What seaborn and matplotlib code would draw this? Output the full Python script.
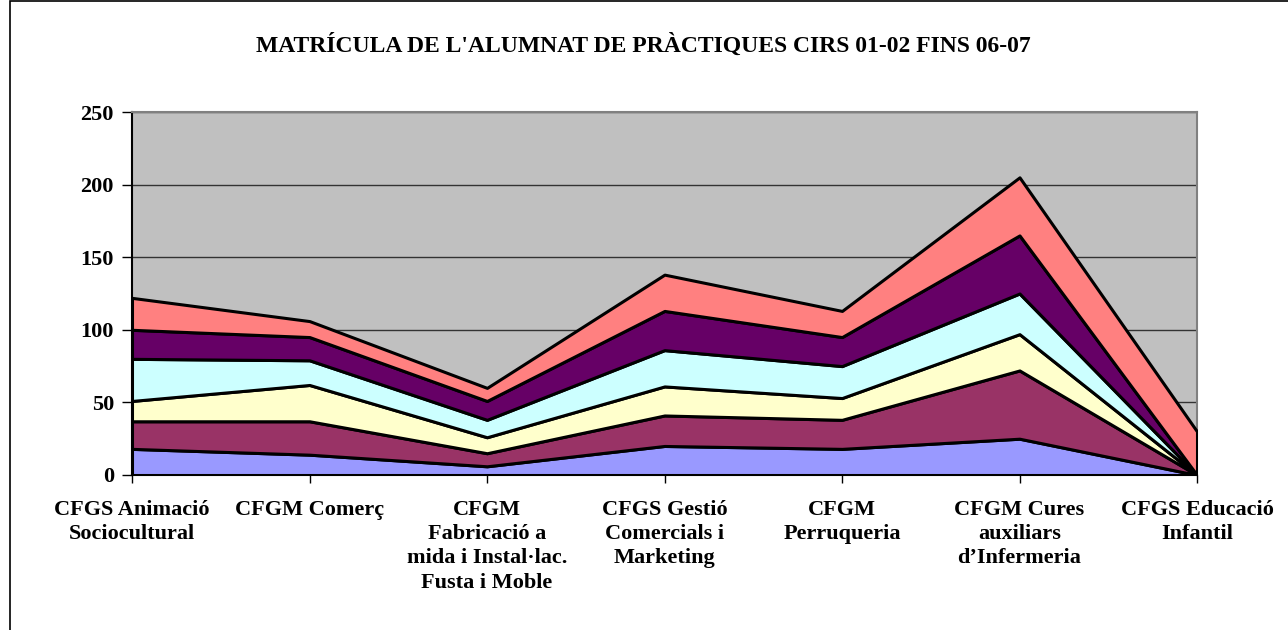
import matplotlib
matplotlib.use("Agg")
import matplotlib.pyplot as plt
from matplotlib.patches import Rectangle
import seaborn as sns

# %% Data ----
categories = [
    "CFGS Animació\nSociocultural",
    "CFGM Comerç",
    "CFGM\nFabricació a\nmida i Instal·lac.\nFusta i Moble",
    "CFGS Gestió\nComercials i\nMarketing",
    "CFGM\nPerruqueria",
    "CFGM Cures\nauxiliars\nd\u2019Infermeria",
    "CFGS Educació\nInfantil",
]
courses = ["01-02", "02-03", "03-04", "04-05", "05-06", "06-07"]
v_01_02 = [18, 14, 6, 20, 18, 25, 0]
v_02_03 = [19, 23, 9, 21, 20, 47, 0]
v_03_04 = [14, 25, 11, 20, 15, 25, 0]
v_04_05 = [29, 17, 12, 25, 22, 28, 0]
v_05_06 = [20, 16, 13, 27, 20, 40, 0]
v_06_07 = [22, 11, 9, 25, 18, 40, 30]
y_ticks = [0, 50, 100, 150, 200, 250]

colors = ["#9999FF", "#993366", "#FFFFCC", "#CCFFFF", "#660066", "#FF8080"]

# %% Style ----
sns.set_style("white")
plt.rcParams["font.family"] = ["Liberation Serif", "DejaVu Serif"]
plt.rcParams["font.weight"] = "bold"
plt.rcParams["text.color"] = "black"
plt.rcParams["xtick.color"] = "black"
plt.rcParams["ytick.color"] = "black"

fig = plt.figure(figsize=(12.88, 6.3), dpi=100)
ax = fig.add_axes([132 / 1288, 1 - 475 / 630, (1197 - 132) / 1288, (475 - 112) / 630])
ax.set_facecolor("#C0C0C0")

x = list(range(len(categories)))
ax.stackplot(x, v_01_02, v_02_03, v_03_04, v_04_05, v_05_06, v_06_07,
             labels=courses, colors=colors, edgecolor="black", linewidth=2.2, zorder=3)

ax.set_xlim(0, len(categories) - 1)
ax.set_ylim(0, 250)
ax.set_yticks(y_ticks)
ax.set_xticks(x)
ax.set_xticklabels(categories, fontsize=16, fontweight="bold", linespacing=1.28)
ax.tick_params(axis="y", labelsize=16, length=7, width=1, pad=6, left=True)
ax.tick_params(axis="x", length=6, width=1, pad=12, bottom=True)
for lbl in ax.get_yticklabels():
    lbl.set_fontweight("bold")

ax.yaxis.grid(True, color="#333333", linewidth=1, zorder=1)
ax.set_axisbelow(True)
ax.xaxis.grid(False)

for side in ["top", "right"]:
    ax.spines[side].set_color("#808080")
    ax.spines[side].set_linewidth(1.5)
for side in ["left", "bottom"]:
    ax.spines[side].set_color("black")
    ax.spines[side].set_linewidth(1.5)

fig.text(643 / 1288, 1 - 45 / 630, "MATRÍCULA DE L'ALUMNAT DE PRÀCTIQUES CIRS 01-02 FINS 06-07",
         ha="center", va="center", fontsize=17, fontweight="bold")

# chart frame
fig.patches.append(Rectangle((10 / 1288, -0.1), 1.2, 1.1 - 1 / 630, transform=fig.transFigure,
                             fill=False, edgecolor="black", linewidth=1.2))

fig.savefig("out.png", dpi=100, facecolor="white")
